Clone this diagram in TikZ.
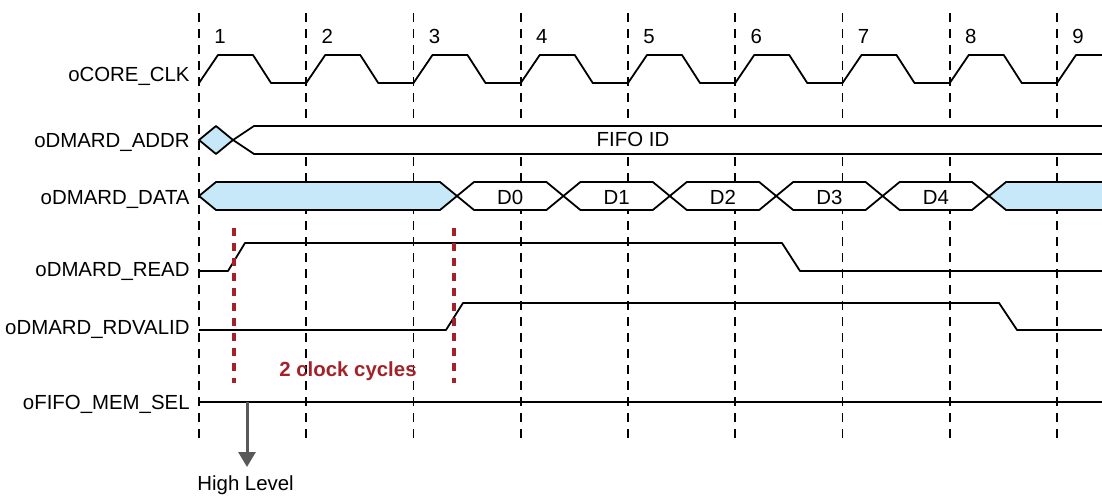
\documentclass[tikz,border=0pt]{standalone}
\usepackage{fontspec}
\setmainfont{Liberation Sans}
\usetikzlibrary{arrows.meta}
\definecolor{busblue}{RGB}{198, 232, 248}
\definecolor{cyclered}{RGB}{163, 33, 40}
\definecolor{arrowgray}{RGB}{89, 89, 89}

\begin{document}
\begin{tikzpicture}[x=0.5pt, y=-0.5pt,
  signame/.style={anchor=base east, font=\fontsize{10.2}{12}\selectfont, inner sep=0pt},
  cyclenum/.style={anchor=base, font=\fontsize{10.2}{12}\selectfont, inner sep=0pt},
  buslabel/.style={anchor=base, font=\fontsize{10.2}{12}\selectfont, inner sep=0pt},
  cyclegrid/.style={draw=black, line width=0.8pt, dash pattern=on 4.5pt off 3.5pt},
  wave/.style={draw=black, line width=0.9pt, line join=round},
  busline/.style={wave, fill=white},
  busblank/.style={wave, fill=busblue},
  delaymark/.style={draw=cyclered, line width=1.6pt, dash pattern=on 4pt off 3.5pt},
  hlarrow/.style={draw=arrowgray, line width=1.5pt, -{Triangle[width=8.5pt,length=7.5pt]}}
]
\clip (0,0) rectangle (1102,497);

% clock edges and cycle numbers
\foreach \i [count=\n] in {0,...,8} {
  \draw[cyclegrid] (199+107.25*\i,13) -- (199+107.25*\i,443);
  \node[cyclenum] (num\n) at (220+107.25*\i,44) {\n};
}

% signal names
\node[signame] (clk)     at (190,82)  {oCORE\_CLK};
\node[signame] (addr)    at (190,148) {oDMARD\_ADDR};
\node[signame] (data)    at (190,205) {oDMARD\_DATA};
\node[signame] (read)    at (190,277) {oDMARD\_READ};
\node[signame] (rdvalid) at (190,334) {oDMARD\_RDVALID};
\node[signame] (memsel)  at (190,409) {oFIFO\_MEM\_SEL};

% oCORE_CLK
\foreach \i in {0,...,8}
  \draw[wave] (199+107.25*\i,83) -- ++(19,-28) -- ++(35,0) -- ++(18,28) -- ++(35.25,0);

% oDMARD_ADDR
\draw[busblank] (199,140) -- (216,126) -- (233,140) -- (216,154) -- cycle;
\draw[busline] (1110,126) -- (254,126) -- (233,140) -- (254,154) -- (1110,154);
\node[buslabel] (fifoid) at (633,147) {FIFO ID};

% oDMARD_DATA
\draw[busblank] (199,196) -- (216,182) -- (440,182) -- (457,196) -- (440,210) -- (216,210) -- cycle;
\foreach \k [evaluate=\k as \xa using 457+106.4*\k,
             evaluate=\k as \xb using 563.4+106.4*\k] in {0,...,4} {
  \draw[busline] (\xa,196) -- (\xa+17,182) -- (\xb-17,182) -- (\xb,196)
    -- (\xb-17,210) -- (\xa+17,210) -- cycle;
  \node[buslabel] (d\k) at ({(\xa+\xb)/2},205) {D\k};
}
\draw[busblank] (1110,182) -- (1006,182) -- (989,196) -- (1006,210) -- (1110,210);

% oDMARD_READ, oDMARD_RDVALID, oFIFO_MEM_SEL
\draw[wave] (199,271) -- (228,271) -- (245,243) -- (782,243) -- (800,271) -- (1110,271);
\draw[wave] (199,330) -- (446,330) -- (463,303) -- (999,303) -- (1017,330) -- (1110,330);
\draw[wave] (199,402) -- (1110,402);

% read latency
\draw[delaymark] (234,228) -- (234,383);
\draw[delaymark] (454,228) -- (454,383);
\node[buslabel, text=cyclered, font=\fontsize{10.2}{12}\selectfont\bfseries] (latency) at (348,376) {2 clock cycles};

\coordinate (selpt) at (247,402);
\coordinate (hltip) at (247,467);
\node[anchor=base west, font=\fontsize{10.2}{12}\selectfont, inner sep=0pt] (high) at (197,490) {High Level};
\draw[hlarrow] (selpt) -- (hltip);
\end{tikzpicture}
\end{document}
